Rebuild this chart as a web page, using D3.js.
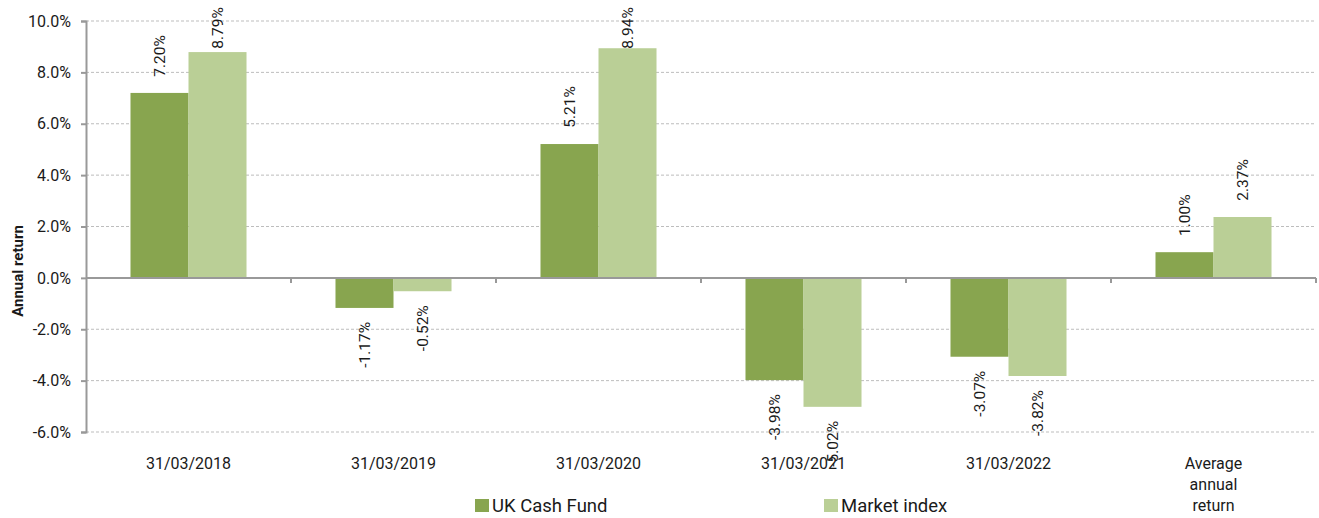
<!DOCTYPE html>
<html><head><meta charset="utf-8">
<script src="https://cdn.jsdelivr.net/npm/d3@7"></script>
<style>
body{margin:0;background:#fff;}
text{font-family:Roboto,"Liberation Sans",sans-serif;fill:#1a1a1a;}
</style></head>
<body><svg id="c" width="1319" height="518"></svg>
<script>
const categories = ["31/03/2018","31/03/2019","31/03/2020","31/03/2021","31/03/2022","Average annual return"];
const categoryLines = [["31/03/2018"],["31/03/2019"],["31/03/2020"],["31/03/2021"],["31/03/2022"],["Average","annual","return"]];
const seriesNames = ["UK Cash Fund","Market index"];
const ukCashFund = [7.20,-1.17,5.21,-3.98,-3.07,1.00];
const marketIndex = [8.79,-0.52,8.94,-5.02,-3.82,2.37];
const yTicks = [-6,-4,-2,0,2,4,6,8,10];
const colors = ["#88a54f","#bacf96"];

(function(){
const svg = d3.select("#c");
const pL=86, pR=1316, pT=21, pB=432;
const y = d3.scaleLinear().domain([-6,10]).range([pB,pT]);
const x = d3.scaleBand().domain(categories).range([pL,pR]).padding(0);
const xs = d3.scaleBand().domain(seriesNames).range([0,x.bandwidth()]).paddingInner(0).paddingOuter(0.767);

// gridlines
svg.append("g").selectAll("line").data(yTicks.filter(t=>t!==0)).join("line")
  .attr("x1",pL).attr("x2",pR).attr("y1",d=>y(d)).attr("y2",d=>y(d))
  .attr("stroke","#bdbdbd").attr("stroke-width",1).attr("stroke-dasharray","3,2");

// y axis
const yAxis = d3.axisLeft(y).tickValues(yTicks).tickFormat(d=>d.toFixed(1)+"%").tickSize(5).tickPadding(10);
const ga = svg.append("g").attr("transform",`translate(${pL},0)`).call(yAxis);
ga.select(".domain").attr("stroke","#999").attr("stroke-width",2);
ga.selectAll(".tick line").attr("stroke","#999").attr("stroke-width",2);
ga.selectAll(".tick text").style("font-size","16px").style("font-family","Roboto").attr("fill","#1a1a1a");

// bars
const data = categories.map((c,i)=>({cat:c, vals:[ukCashFund[i],marketIndex[i]]}));
const groups = svg.append("g").selectAll("g").data(data).join("g").attr("transform",d=>`translate(${x(d.cat)},0)`);
groups.selectAll("rect").data(d=>d.vals.map((v,j)=>({v,s:seriesNames[j],j}))).join("rect")
  .attr("x",d=>xs(d.s)).attr("width",xs.bandwidth())
  .attr("y",d=>Math.min(y(d.v),y(0))).attr("height",d=>Math.abs(y(d.v)-y(0)))
  .attr("fill",d=>colors[d.j]);

// zero axis line
svg.append("line").attr("x1",pL).attr("x2",pR).attr("y1",y(0)).attr("y2",y(0)).attr("stroke","#999").attr("stroke-width",2);
// x ticks at band boundaries
svg.append("g").selectAll("line").data(categories).join("line")
  .attr("x1",d=>x(d)+x.bandwidth()).attr("x2",d=>x(d)+x.bandwidth())
  .attr("y1",y(0)).attr("y2",y(0)+5).attr("stroke","#999").attr("stroke-width",2);

// value labels
const labelLen = 42, gap=16;
groups.selectAll("text.val").data(d=>d.vals.map((v,j)=>({v,s:seriesNames[j],j}))).join("text")
  .attr("class","val")
  .attr("transform",d=>{
    const cx = xs(d.s)+xs.bandwidth()/2;
    let cy;
    if(d.v>=0){ const end=y(d.v)-gap; const start=Math.max(end-labelLen,7); cy=start+labelLen/2; }
    else { cy=y(d.v)+gap+labelLen/2; }
    return `translate(${cx},${cy}) rotate(-90)`;
  })
  .attr("text-anchor","middle").attr("dy","0.35em")
  .style("font-size","15.5px")
  .text(d=>d.v.toFixed(2)+"%");

// category labels
svg.append("g").selectAll("text").data(categories).join("text")
  .attr("x",d=>x(d)+x.bandwidth()/2).attr("y",469)
  .attr("text-anchor","middle").style("font-size","16px")
  .each(function(d,i){
    const t=d3.select(this);
    categoryLines[i].forEach((ln,k)=>t.append("tspan").attr("x",x(d)+x.bandwidth()/2).attr("dy",k===0?0:20.8).text(ln));
  });

// y title
svg.append("text").attr("transform","translate(23,271) rotate(-90)").attr("text-anchor","middle")
  .style("font-size","15px").style("font-weight","bold").text("Annual return");

// legend
const legX=[475,824];
const lg = svg.append("g").selectAll("g").data(seriesNames).join("g").attr("transform",(d,i)=>`translate(${legX[i]},0)`);
lg.append("rect").attr("x",0).attr("y",499).attr("width",14).attr("height",13).attr("fill",(d,i)=>colors[i]);
lg.append("text").attr("x",17).attr("y",512).style("font-size",("18.5px")).text(d=>d);
})();
</script></body></html>
